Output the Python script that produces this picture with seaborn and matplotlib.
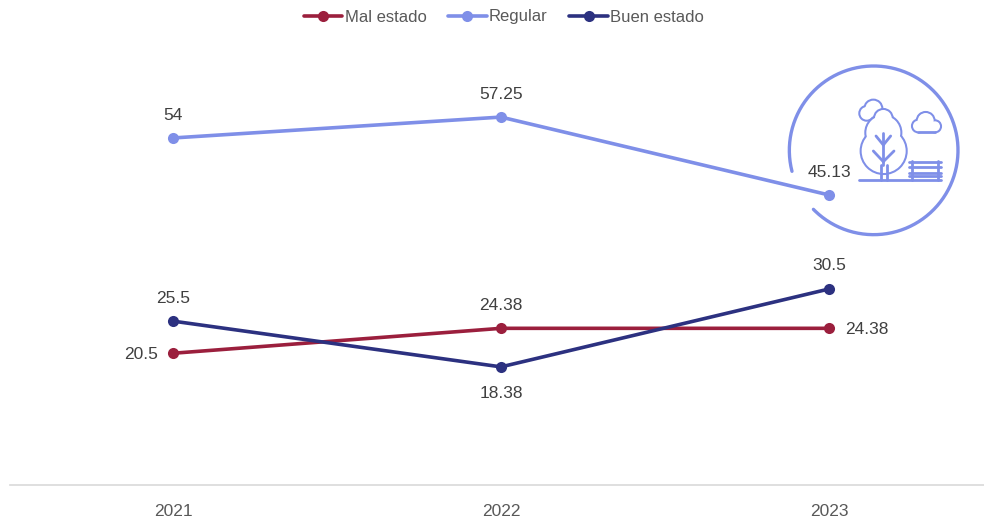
import numpy as np
import pandas as pd
import seaborn as sns
import matplotlib.pyplot as plt
from matplotlib.patches import Circle, Rectangle

years = ['2021', '2022', '2023']
mal_estado = [20.5, 24.38, 24.38]
regular = [54, 57.25, 45.13]
buen_estado = [25.5, 18.38, 30.5]
series_names = ['Mal estado', 'Regular', 'Buen estado']

df = pd.DataFrame({
    'year': years * 3,
    'estado': np.repeat(series_names, 3),
    'value': mal_estado + regular + buen_estado,
})

sns.set_theme(style='white')
plt.rcParams['font.family'] = ['Liberation Sans', 'DejaVu Sans']

colors = {'Mal estado': '#9B1F3D', 'Regular': '#7F8FE8', 'Buen estado': '#2C3180'}
icon_color = '#7F8FE8'

fig = plt.figure(figsize=(9.84, 5.21), dpi=100)
ax = fig.add_axes([10 / 984, 36 / 521, 974 / 984, 455 / 521])
ax.patch.set_alpha(0)

sns.lineplot(data=df, x='year', y='value', hue='estado', palette=colors, marker='o',
             markersize=8, markeredgewidth=0, linewidth=2.6, sort=False, ax=ax)

ax.set_xlim(-0.497, 2.4726)
ax.set_ylim(0, 70.8)
ax.set_xlabel('')
ax.set_ylabel('')
ax.set_yticks([])
ax.tick_params(axis='x', length=0, pad=13.5, labelsize=12.5, labelcolor='#595959')
sns.despine(ax=ax, left=True)
ax.spines['bottom'].set_color('#D9D9D9')
ax.spines['bottom'].set_linewidth(1.2)

# data labels, offsets in points
label_offsets = {
    'Mal estado': [(-11, -1, 'right'), (0, 16.5, 'center'), (11.5, -1, 'left')],
    'Regular': [(0, 16.5, 'center'), (0, 16.5, 'center'), (0, 16.5, 'center')],
    'Buen estado': [(0, 16.5, 'center'), (0, -19, 'center'), (0, 17, 'center')],
}
for name, vals in zip(series_names, [mal_estado, regular, buen_estado]):
    for i, v in enumerate(vals):
        dx, dy, ha = label_offsets[name][i]
        ax.annotate(f'{v:g}', (i, v), xytext=(dx, dy), textcoords='offset points',
                    ha=ha, va='center', fontsize=12.5, color='#404040', zorder=5)

handles, labels = ax.get_legend_handles_labels()
ax.get_legend().remove()
fig.legend(handles, labels, loc='center', bbox_to_anchor=(504 / 984, 1 - 17 / 521), ncol=3,
           frameon=False, fontsize=12, labelcolor='#595959', handlelength=2.3,
           handletextpad=0.15, columnspacing=1.3, borderpad=0)

# park icon, coordinates are pixels of a 3x crop around it
icon = fig.add_axes([770 / 984, 1 - 250 / 521, 210 / 984, 200 / 521], zorder=-1)
icon.set_xlim(0, 630)
icon.set_ylim(600, 0)
icon.axis('off')

t = np.radians(np.linspace(165.6, 495.6, 200))
icon.plot(311 + 253 * np.cos(t), 301 + 253 * np.sin(t), color=icon_color, lw=2.4)


def blob(lobes, z):
    # union outline: stroked circles, then white fill on top
    for x, y, r in lobes:
        icon.add_patch(Circle((x, y), r, fc='none', ec=icon_color, lw=2, zorder=z))
    for x, y, r in lobes:
        icon.add_patch(Circle((x, y), r - 2, fc='white', ec='none', zorder=z + 0.5))


blob([(290, 190, 21), (310, 176, 26)], 1)
blob([(341, 303, 68), (340, 248, 53), (340, 205, 27)], 2)
blob([(445, 228, 18), (467, 213, 26), (495, 229, 17)], 1)
icon.add_patch(Rectangle((445, 220), 50, 26, fc='white', ec='none', zorder=1.6))

segments = [
    ((268, 390), (513, 390)), ((332, 345), (332, 390)), ((350, 345), (350, 390)),
    ((340, 250), (340, 345)), ((318, 258), (340, 285)), ((362, 258), (340, 285)),
    ((310, 303), (340, 335)), ((372, 303), (340, 335)),
    ((418, 337), (512, 337)), ((418, 352), (512, 352)), ((418, 368), (512, 368)),
    ((418, 378), (512, 378)), ((425, 332), (425, 390)), ((505, 332), (505, 390)),
    ((445, 246), (495, 246)),
]
for (x0, y0), (x1, y1) in segments:
    icon.plot([x0, x1], [y0, y1], color=icon_color, lw=2, zorder=4, solid_capstyle='round')

fig.savefig('out.png', dpi=100)
